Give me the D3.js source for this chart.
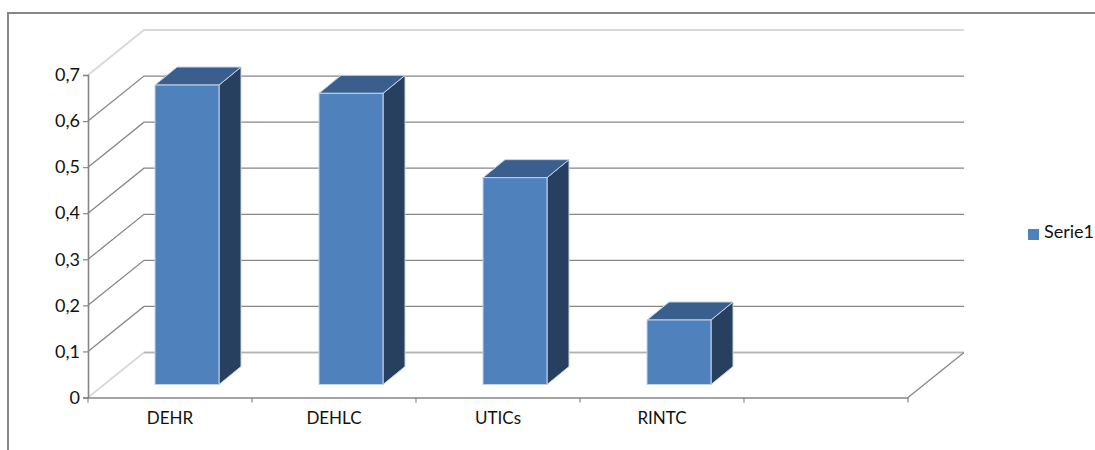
<!DOCTYPE html>
<html><head><meta charset="utf-8">
<script src="https://cdn.jsdelivr.net/npm/d3@7"></script>
<style>html,body{margin:0;padding:0;background:#fff}svg{display:block}text{font-family:Lato,"Open Sans",sans-serif;fill:#111}</style>
</head><body><svg id="c" width="1095" height="450"></svg>
<script>
const categories=["DEHR","DEHLC","UTICs","RINTC",""];
const seriesName="Serie1";
const values=[0.65,0.632,0.449,0.14];
const yTicks=[0,0.1,0.2,0.3,0.4,0.5,0.6,0.7];

const svg=d3.select("#c");
const x=d3.scaleBand().domain(categories).range([88,908]);
const y=d3.scaleLinear().domain([0,0.7]).range([397.5,75]);
const depth={dx:56,dy:-45};
const barDepth={dx:22,dy:-18};
const barInset={dx:16,dy:-13};
const barW=64;
const grey="#868686", light="#d9d9d9";
const fmt=v=>String(v).replace(".",",");

// outer frame
svg.append("path").attr("d","M8,450V13H1095").attr("fill","none").attr("stroke",grey).attr("stroke-width",2);

// gridlines: back wall + side wall
yTicks.forEach(t=>{
  const edge=t===0||t===0.7;
  const yy=y(t);
  const g=svg.append("g").attr("fill","none").attr("stroke",edge?light:grey).attr("stroke-width",edge?1.8:1.3);
  g.append("path").attr("d",`M${x.range()[0]},${yy}l${depth.dx},${depth.dy}H${x.range()[1]+depth.dx}`);
});
// the back floor edge is darker than the top edge
svg.append("path").attr("d",`M${88+depth.dx},${y(0)+depth.dy}H${908+depth.dx}`).attr("stroke","#b4b4b4").attr("stroke-width",1.3);
svg.append("path").attr("d",`M908,${y(0)}l${depth.dx},${depth.dy}`).attr("stroke",grey).attr("stroke-width",1.3);

// axes
const axY=svg.append("g").attr("transform","translate(88,0)")
  .call(d3.axisLeft(y).tickValues(yTicks).tickFormat(fmt).tickSize(5).tickPadding(3));
const axX=svg.append("g").attr("transform",`translate(0,${y(0)})`)
  .call(d3.axisBottom(x).tickSizeInner(0).tickSizeOuter(0).tickPadding(14));
axX.selectAll(".tick").filter(d=>d==="").remove();
const cuts=categories.map(c=>x(c)).concat([x.range()[1]]);
axX.selectAll(".cut").data(cuts).join("line").attr("class","cut")
  .attr("x1",d=>d).attr("x2",d=>d).attr("y1",0).attr("y2",5).attr("stroke",grey).attr("stroke-width",1.2);
[axY,axX].forEach(a=>{
  a.selectAll(".domain").attr("stroke",grey).attr("stroke-width",1.6);
  a.selectAll(".tick line").attr("stroke",grey).attr("stroke-width",1.2);
});
axY.selectAll("text").attr("font-size",18).style("fill","#111");
axX.selectAll(".tick text").attr("font-size",17).style("fill","#111");

// 3D bars
const bars=svg.selectAll(".bar").data(values).join("g").attr("class","bar")
  .attr("stroke","#c4d3e6").attr("stroke-width",1);
const bx=(d,i)=>x(categories[i])+x.bandwidth()/2-barW/2+barInset.dx+1;
const by=d=>y(d)+barInset.dy;
const by0=y(0)+barInset.dy;
bars.append("path").attr("fill","#274060")
  .attr("d",(d,i)=>{const r=bx(d,i)+barW;return `M${r},${by(d)}l${barDepth.dx},${barDepth.dy}V${by0+barDepth.dy}l${-barDepth.dx},${-barDepth.dy}Z`;});
bars.append("path").attr("fill","#3b5f8d")
  .attr("d",(d,i)=>{const l=bx(d,i);return `M${l},${by(d)}l${barDepth.dx},${barDepth.dy}h${barW}l${-barDepth.dx},${-barDepth.dy}Z`;});
bars.append("rect").attr("fill","#4f81bd")
  .attr("x",(d,i)=>bx(d,i)).attr("y",by).attr("width",barW).attr("height",d=>by0-by(d));

// legend
const lg=svg.append("g");
lg.append("rect").attr("x",1028).attr("y",229).attr("width",11).attr("height",11).attr("fill","#4f81bd");
lg.append("text").attr("x",1044).attr("y",238).attr("font-size",18).text(seriesName);
</script></body></html>
